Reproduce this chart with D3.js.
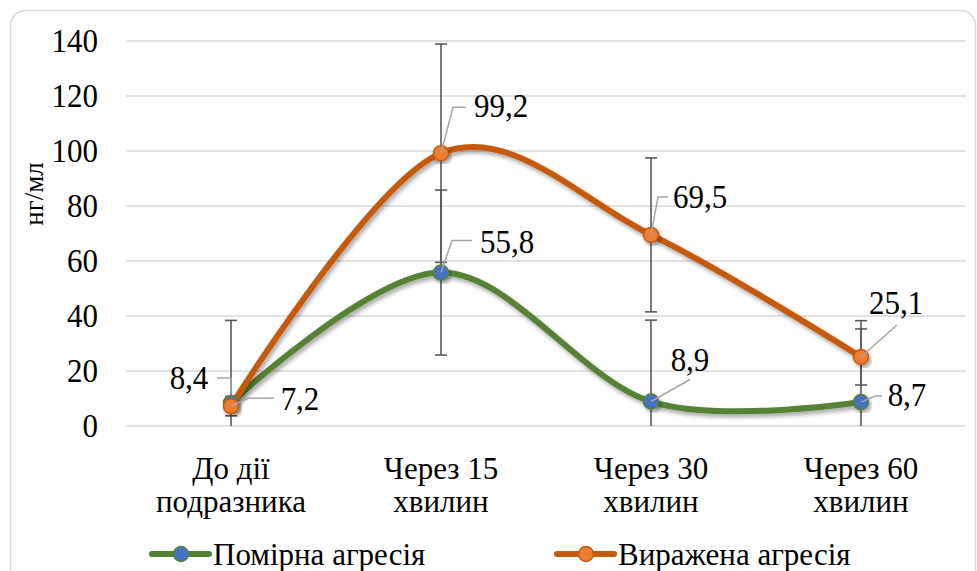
<!DOCTYPE html>
<html><head><meta charset="utf-8">
<script src="https://cdn.jsdelivr.net/npm/d3@7"></script>
<style>
html,body{margin:0;padding:0;background:#fff;}
svg{display:block;}
</style></head>
<body>
<svg id="chart" width="977" height="571"></svg>
<script>
// ---- data ----
const categories = [["До дії","подразника"],["Через 15","хвилин"],["Через 30","хвилин"],["Через 60","хвилин"]];
const seriesNames = ["Помірна агресія","Виражена агресія"];
const moderateValues = [8.4, 55.8, 8.9, 8.7];
const moderateErrors = [30, 30, 29.6, 29.6];
const severeValues = [7.2, 99.2, 69.5, 25.1];
const severeErrors = [3.5, 39.7, 28, 10.2];
const moderateLabels = ["8,4","55,8","8,9","8,7"];
const severeLabels = ["7,2","99,2","69,5","25,1"];
const yTicks = [0,20,40,60,80,100,120,140];
const yTitle = "нг/мл";

// ---- layout / style ----
const FONT = "Liberation Serif";
const plot = {left:126, right:966, top:41, bottom:426};
const FS = 31, STRETCH = 1.07;
const colors = {
  moderate:{line:"#548235", fill:"#4472C4"},
  severe:{line:"#C55A11", fill:"#ED7D31"}
};
const moderateLayout = [
  {dx:-42, dy:-25, leader:[[0,-9],[0,-25],[-14,-25]]},
  {dx:66, dy:-31, leader:[[0,0],[11,-32],[31,-32]]},
  {dx:39, dy:-42, leader:[[0,0],[39,-22]]},
  {dx:46, dy:-7, leader:[[0,0],[14,-6],[21,-6]]}
];
const severeLayout = [
  {dx:69, dy:-7, leader:[[0,0],[17,-8],[43,-8]]},
  {dx:60, dy:-47, leader:[[0,0],[12,-46],[25,-46]]},
  {dx:49, dy:-38, leader:[[0,0],[7,-38],[17,-38]]},
  {dx:35, dy:-54, leader:[[0,0],[36,-32]]}
];

const svg = d3.select("#chart");
const defs = svg.append("defs");
const f = defs.append("filter").attr("id","shadow").attr("x","-10%").attr("y","-10%").attr("width","130%").attr("height","130%");
f.append("feDropShadow").attr("dx",2).attr("dy",3).attr("stdDeviation",2.2).attr("flood-color","#000").attr("flood-opacity",0.35);

svg.append("rect").attr("x",10.5).attr("y",10.5).attr("width",965).attr("height",620)
  .attr("rx",15).attr("fill","#fff").attr("stroke","#d9d9d9").attr("stroke-width",1.5);

const x = d3.scalePoint().domain(d3.range(categories.length)).range([plot.left, plot.right]).padding(0.5);
const y = d3.scaleLinear().domain([0,140]).range([plot.bottom, plot.top]);

// text; (px,py) is the baseline point, optional slight vertical stretch
function stext(g, px, py, str, anchor, stretch){
  return g.append("text").attr("transform",`translate(${px},${py}) scale(1,${stretch||1})`)
    .attr("x",0).attr("y",0).attr("text-anchor",anchor).attr("font-size",FS)
    .attr("font-family",FONT).attr("fill","#000").text(str);
}

svg.append("g").selectAll("line").data(yTicks).join("line")
  .attr("x1",plot.left).attr("x2",plot.right)
  .attr("y1",d=>y(d)).attr("y2",d=>y(d))
  .attr("stroke","#d9d9d9").attr("stroke-width",1.5);

const yl = svg.append("g");
yTicks.forEach(t => stext(yl, 98, y(t)+11, String(t), "end", STRETCH));

svg.append("text").attr("transform",`translate(43,194) rotate(-90)`)
  .attr("text-anchor","middle").attr("font-size",27).attr("font-family",FONT).text(yTitle);

const cl = svg.append("g");
categories.forEach((c,i) => {
  stext(cl, x(i), 479, c[0], "middle");
  stext(cl, x(i), 512, c[1], "middle");
});

function errorBars(vals, errs){
  const g = svg.append("g").attr("stroke","#595959").attr("stroke-width",1.6);
  vals.forEach((v,i) => {
    const hi = Math.min(140, v+errs[i]), lo = Math.max(0, v-errs[i]);
    g.append("line").attr("x1",x(i)).attr("x2",x(i)).attr("y1",y(hi)).attr("y2",y(lo));
    g.append("line").attr("x1",x(i)-6).attr("x2",x(i)+6).attr("y1",y(hi)).attr("y2",y(hi));
    if (v-errs[i] > 0) g.append("line").attr("x1",x(i)-6).attr("x2",x(i)+6).attr("y1",y(lo)).attr("y2",y(lo));
  });
}
errorBars(moderateValues, moderateErrors);
errorBars(severeValues, severeErrors);

const line = d3.line().x((d,i)=>x(i)).y(d=>y(d)).curve(d3.curveCatmullRom.alpha(0));

function drawSeries(vals, col){
  svg.append("path").datum(vals).attr("d",line).attr("fill","none")
    .attr("stroke",col.line).attr("stroke-width",6).attr("stroke-linecap","round")
    .attr("filter","url(#shadow)");
}
function drawMarkers(vals, col){
  svg.append("g").selectAll("circle").data(vals).join("circle")
    .attr("cx",(d,i)=>x(i)).attr("cy",d=>y(d)).attr("r",7.5)
    .attr("fill",col.fill).attr("stroke",col.line).attr("stroke-width",1.5)
    .attr("filter","url(#shadow)");
}
drawSeries(moderateValues, colors.moderate);
drawSeries(severeValues, colors.severe);
drawMarkers(moderateValues, colors.moderate);
drawMarkers(severeValues, colors.severe);

function drawLabels(vals, labels, layout){
  const g = svg.append("g");
  vals.forEach((v,i) => {
    const px = x(i), py = y(v), L = layout[i];
    g.append("polyline").attr("points", L.leader.map(p=>`${px+p[0]},${py+p[1]}`).join(" "))
      .attr("fill","none").attr("stroke","#a6a6a6").attr("stroke-width",1.5);
    stext(g, px+L.dx, py+L.dy+11, labels[i], "middle", STRETCH);
  });
}
drawLabels(moderateValues, moderateLabels, moderateLayout);
drawLabels(severeValues, severeLabels, severeLayout);

const legend = svg.append("g");
const legendItems = [
  {name:seriesNames[0], col:colors.moderate, x0:152},
  {name:seriesNames[1], col:colors.severe, x0:557}
];
legendItems.forEach(it => {
  const ly = 554;
  legend.append("line").attr("x1",it.x0).attr("x2",it.x0+57).attr("y1",ly).attr("y2",ly)
    .attr("stroke",it.col.line).attr("stroke-width",6).attr("stroke-linecap","round");
  legend.append("circle").attr("cx",it.x0+29).attr("cy",ly).attr("r",7.5)
    .attr("fill",it.col.fill).attr("stroke",it.col.line).attr("stroke-width",1.5);
  stext(legend, it.x0+61, 565, it.name, "start");
});
</script>
</body></html>
